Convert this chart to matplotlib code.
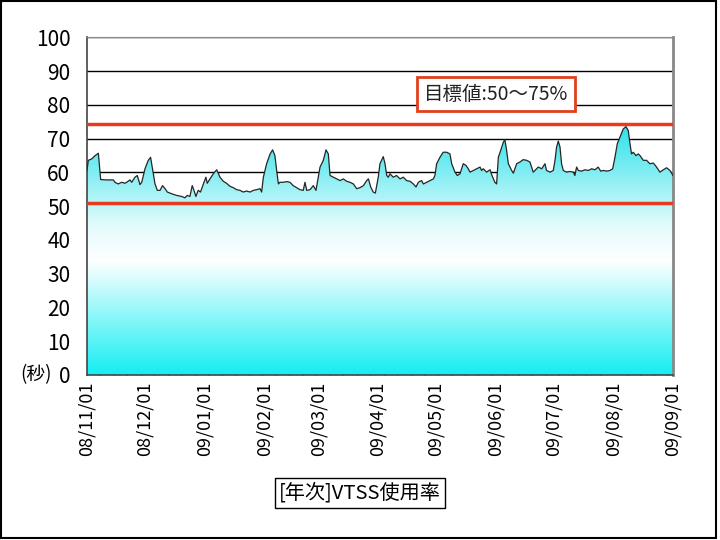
import numpy as np
import pandas as pd
import matplotlib
matplotlib.use('Agg')
import matplotlib.pyplot as plt
import matplotlib.dates as mdates
from matplotlib.colors import LinearSegmentedColormap
from matplotlib.patches import Rectangle

plt.rcParams['font.family'] = ['Noto Sans CJK JP', 'DejaVu Sans']

# days after 2008/11/01 and usage rate
start = pd.Timestamp('2008-11-01')
end = pd.Timestamp('2009-09-01')
days = [0, 0.7, 2.4, 4.2, 5.9, 7.1, 10.2, 13.7, 14.5, 16.2, 18.0, 19.7, 21.4, 22.3, 23.2, 24.9,
        26.1, 27.5, 28.4, 30.1, 31.8, 33.0, 34.0, 35.3, 36.5, 37.9, 39.2, 40.5, 41.7, 43.9,
        46.5, 49.1, 50.8, 52.0, 53.4, 54.6, 55.5, 56.5, 57.7, 58.9, 60.7, 61.7, 62.4, 63.8,
        65.5, 67.3, 69.0, 70.7, 72.4, 74.2,
        75.9, 77.7, 79.4, 81.1, 82.8, 84.6, 86.3, 88.0, 89.8, 90.6, 91.5, 93.2, 95.0, 96.3,
        97.5, 98.4, 99.3, 100.1, 101.9, 103.6, 105.3, 107.0, 108.8, 110.5, 112.2, 113.1,
        114.0, 115.7, 117.4, 118.8, 120.0, 120.9, 122.6, 124.0, 125.2, 126.1, 127.8, 129.5,
        131.3, 133.0, 134.7, 136.4, 138.2, 139.9, 141.6, 143.4, 145.1, 146.0, 147.2, 148.5,
        149.6, 151.1, 152.0,
        153.7, 154.6, 155.5, 156.3, 157.2, 158.9, 160.6, 162.4, 164.1, 165.8, 167.6, 169.3,
        170.7, 171.9, 173.6, 174.5, 176.2, 177.9, 179.7, 180.5, 181.4, 183.1, 184.8, 186.6,
        188.3, 189.2, 190.9, 192.1, 193.5, 195.2, 196.6, 197.8, 198.7, 200.4, 202.1, 203.9,
        204.7, 205.6, 207.3, 209.1, 209.9, 211.6, 212.5, 213.4, 214.6, 216.0, 216.8, 217.7,
        218.6, 220.3, 221.2, 222.9, 224.6, 226.3, 228.1,
        229.8, 231.5, 232.4, 234.1, 235.9, 237.6, 238.4, 240.2, 241.9, 242.8, 243.6, 244.5,
        245.4, 246.2, 247.1, 248.8, 250.5, 252.3, 253.1, 254.0, 254.9, 256.6, 258.3, 260.1,
        261.8, 263.5, 265.2, 266.5, 267.8, 269.6, 271.3, 272.7, 273.9, 275.1, 276.5, 278.2,
        279.6, 280.8, 281.7, 282.5, 283.4, 284.8, 286.0, 286.9, 288.6, 290.3, 292.0, 293.8,
        295.5, 297.2, 299.0, 300.7, 302.4, 303.3, 304]
rate = [60.6, 63.6, 64.0, 65.0, 65.7, 57.9, 57.8, 57.8, 57.1, 56.6, 57.1, 56.8, 57.4, 57.8, 57.1, 58.6,
        59.1, 56.4, 57.1, 61.1, 63.6, 64.5, 61.1, 56.6, 54.7, 54.7, 56.1, 55.2, 54.2, 53.7,
        53.2, 52.9, 52.5, 53.2, 52.9, 56.1, 54.7, 52.9, 54.7, 54.2, 57.1, 58.6, 56.8, 58.1,
        59.6, 60.8, 58.6, 57.4, 56.8, 55.9,
        55.5, 54.9, 54.7, 54.2, 54.5, 54.2, 54.7, 54.9, 55.2, 54.2, 58.6, 62.6, 65.5, 66.7,
        65.0, 60.6, 56.6, 57.1, 57.1, 57.3, 57.1, 56.1, 55.5, 54.9, 54.7, 57.1,
        54.7, 54.9, 56.1, 54.7, 58.6, 61.6, 63.6, 66.7, 65.5, 59.1, 58.6, 58.1,
        57.6, 58.1, 57.4, 57.1, 56.6, 55.2, 55.5, 56.1, 57.6, 58.1, 55.7, 54.2,
        53.9, 58.6, 62.6,
        64.7, 62.6, 59.1, 58.6, 59.6, 58.6, 59.1, 58.1, 58.6, 57.6, 57.4, 56.6,
        55.7, 57.1, 57.6, 56.6, 57.1, 57.6, 58.1, 59.1, 62.6, 64.5, 66.0, 66.0,
        65.5, 62.6, 60.1, 59.1, 59.6, 62.6, 62.1, 61.1, 60.1, 60.6, 61.1, 61.6,
        60.6, 61.1, 60.1, 60.8, 59.4, 57.1, 56.6, 64.5, 66.5, 69.0, 69.7, 66.5,
        62.6, 60.6, 59.8, 62.6, 63.1, 63.8, 63.6,
        63.1, 60.1, 60.6, 61.6, 61.1, 62.6, 60.6, 60.1, 60.6, 63.6, 67.5, 69.3,
        67.5, 62.6, 60.6, 60.1, 60.3, 60.1, 59.1, 61.6, 60.6, 60.4, 60.8, 60.6,
        61.1, 60.8, 61.6, 60.4, 60.6, 60.4, 60.6, 61.1, 64.5, 68.5, 70.5, 72.9,
        73.6, 72.4, 68.5, 65.5, 66.0, 65.0, 65.5, 65.0, 63.6, 63.6, 62.6, 62.8,
        61.6, 60.1, 60.8, 61.4, 60.6, 59.8, 59.1]
target_low = 51
target_high = 74.5
yticks = list(range(0, 101, 10))

x = mdates.date2num(start + pd.to_timedelta(days, unit='D'))
x0 = mdates.date2num(start)
x1 = mdates.date2num(end)

fig = plt.figure(figsize=(7.2, 5.4), dpi=100)
ax = fig.add_axes([0.1208, 0.3056, 0.8139, 0.625])

# gradient fill under the curve: cyan - white - cyan
cmap = LinearSegmentedColormap.from_list('vtss', [(0, '#14eef3'), (0.46, '#ffffff'), (0.6, '#e4fbfc'),
                                                  (1, '#2ee2ea')])
vmax = max(rate)
poly = ax.fill_between(x, rate, 0, facecolor='none', edgecolor='none')
grad = np.linspace(0, 1, 256).reshape(-1, 1)
im = ax.imshow(grad, extent=[x0, x1, 0, vmax], aspect='auto', origin='lower', cmap=cmap, zorder=1)
im.set_clip_path(poly.get_paths()[0], transform=ax.transData)

ax.plot(x, rate, color='#262626', lw=0.9, zorder=3)
ax.axhline(target_high, color='#e83a1e', lw=2.5, zorder=4)
ax.axhline(target_low, color='#e83a1e', lw=2.5, zorder=4)

ax.set_xlim(x0, x1)
ax.set_ylim(0, 100)
ax.set_yticks(yticks)
ax.set_yticklabels([str(t) for t in yticks], fontsize=15)
ax.yaxis.grid(True, color='black', lw=1)
ax.set_axisbelow(True)
ax.tick_params(axis='y', length=0, pad=12)

ax.xaxis.set_major_locator(mdates.MonthLocator())
ax.xaxis.set_major_formatter(mdates.DateFormatter('%y/%m/%d'))
weeks = [x0 + 7 * k for k in range(1, 44)]
ax.set_xticks(weeks, minor=True)
ax.tick_params(axis='x', which='major', length=0, pad=5, labelsize=13, labelrotation=90)
ax.tick_params(axis='x', which='minor', direction='in', length=4, width=1, color='#333333')

for s in ['left', 'bottom']:
    ax.spines[s].set_color('#444444')
    ax.spines[s].set_linewidth(1.2)
ax.spines['top'].set_color('#888888')
ax.spines['right'].set_color('#888888')
ax.spines['right'].set_linewidth(2)

ax.text(-0.06, 0, '(秒)', transform=ax.transAxes, fontsize=13.5, ha='right', va='center')

ax.text(0.698, 0.832, '目標値:50〜75%', transform=ax.transAxes, fontsize=14, color='#222222',
        ha='center', va='center', zorder=6,
        bbox=dict(boxstyle='square,pad=0.35', facecolor='white', edgecolor='#e0401c', lw=2))

fig.text(0.5, 0.087, '[年次]VTSS使用率', fontsize=14.5, ha='center', va='center',
         bbox=dict(boxstyle='square,pad=0.2', facecolor='white', edgecolor='black', lw=1))

fig.patches.append(Rectangle((0.0015, 0.0045), 0.993, 0.993, transform=fig.transFigure,
                             fill=False, edgecolor='black', lw=1.5))

fig.savefig('out.png', dpi=100)
